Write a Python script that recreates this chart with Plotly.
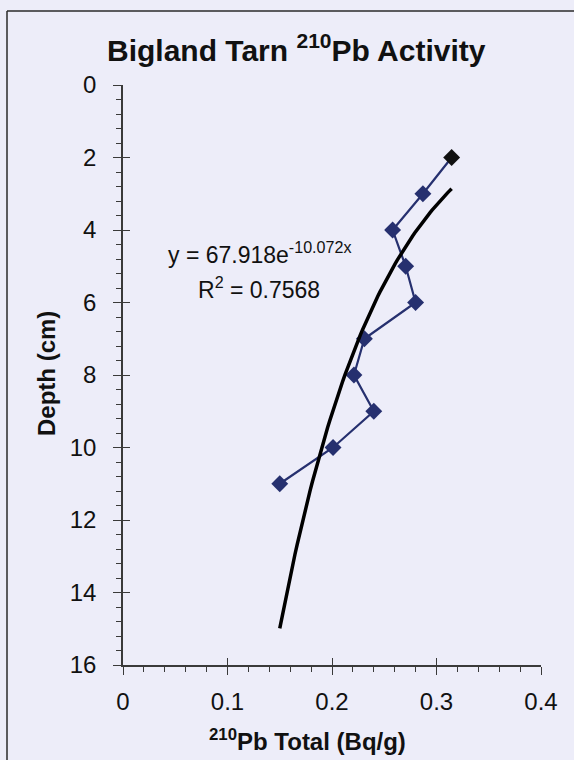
import numpy as np
import plotly.graph_objects as go

# ---- data ----
depth_cm = [2, 3, 4, 5, 6, 7, 8, 9, 10, 11]
pb210_total = [0.3145, 0.287, 0.258, 0.2705, 0.280, 0.231, 0.221, 0.240, 0.201, 0.150]

# exponential trendline shown on chart: depth = A * exp(B * activity)
trend_A = 67.918
trend_B = -10.072
trend_r2 = 0.7568

x_ticks = [0, 0.1, 0.2, 0.3, 0.4]
y_ticks = [0, 2, 4, 6, 8, 10, 12, 14, 16]

# ---- styling ----
BG = "#EDEDF9"
NAVY = "#26306F"
AXIS = "#3a3a3a"
FONT = "Liberation Sans, Arial, sans-serif"

W, H = 574, 760
L, R, T, B = 123, 33, 85, 95
PW, PH = W - L - R, H - T - B


def px2paper_x(px):
    return (px - L) / PW


def px2paper_y(py):
    return (H - B - py) / PH


tx = np.linspace(min(pb210_total), max(pb210_total), 80)
ty = trend_A * np.exp(trend_B * tx)

marker_colors = ["#111111"] + [NAVY] * (len(depth_cm) - 1)

fig = go.Figure()
fig.add_trace(go.Scatter(
    x=pb210_total, y=depth_cm, mode="lines+markers",
    line=dict(color=NAVY, width=2.2),
    marker=dict(symbol="diamond", size=13, color=marker_colors),
    hoverinfo="skip", showlegend=False,
))
fig.add_trace(go.Scatter(
    x=tx, y=ty, mode="lines",
    line=dict(color="black", width=3.5),
    hoverinfo="skip", showlegend=False,
))
# dummy trace to realise overlay axes (inside half of crossing ticks)
fig.add_trace(go.Scatter(x=[None], y=[None], xaxis="x2", yaxis="y2",
                         showlegend=False, hoverinfo="skip"))

tickfont = dict(family=FONT, size=24, color="#111111")
fig.update_layout(
    width=W, height=H,
    margin=dict(l=L, r=R, t=T, b=B, pad=0),
    paper_bgcolor=BG, plot_bgcolor=BG,
    xaxis=dict(
        range=[0, 0.4], tickvals=x_ticks, ticktext=[f"{v:g}" for v in x_ticks],
        ticks="outside", ticklen=8, tickwidth=1.3, tickcolor=AXIS,
        minor=dict(ticks="outside", dtick=0.02, ticklen=5, tickwidth=1, tickcolor=AXIS),
        showline=True, linecolor=AXIS, linewidth=1.5,
        showgrid=False, zeroline=False, tickfont=tickfont,
        ticklabelstandoff=6, fixedrange=True,
    ),
    yaxis=dict(
        range=[16, 0], tickvals=y_ticks, ticktext=[str(v) for v in y_ticks],
        ticks="outside", ticklen=8, tickwidth=1.3, tickcolor=AXIS,
        minor=dict(ticks="outside", dtick=0.4, ticklen=5, tickwidth=1, tickcolor=AXIS),
        showline=True, linecolor=AXIS, linewidth=1.5,
        showgrid=False, zeroline=False, tickfont=tickfont,
        ticklabelstandoff=12, fixedrange=True,
    ),
    xaxis2=dict(
        range=[0, 0.4], overlaying="x", anchor="y2", side="bottom",
        tickvals=x_ticks, ticks="inside", ticklen=7, tickwidth=1.3, tickcolor=AXIS,
        showticklabels=False, showline=False, showgrid=False, zeroline=False,
    ),
    yaxis2=dict(
        range=[16, 0], overlaying="y", anchor="x2", side="left",
        tickvals=y_ticks, ticks="inside", ticklen=7, tickwidth=1.3, tickcolor=AXIS,
        showticklabels=False, showline=False, showgrid=False, zeroline=False,
    ),
)

annos = [
    dict(text="<b>Bigland Tarn <sup>210</sup>Pb Activity</b>",
         x=px2paper_x(296), y=px2paper_y(48), xref="paper", yref="paper",
         showarrow=False, xanchor="center", yanchor="middle",
         font=dict(family=FONT, size=30, color="#111111")),
    dict(text="<b>Depth (cm)</b>", textangle=-90,
         x=px2paper_x(46), y=px2paper_y(374), xref="paper", yref="paper",
         showarrow=False, xanchor="center", yanchor="middle",
         font=dict(family=FONT, size=24, color="#111111")),
    dict(text="<b><sup>210</sup>Pb Total (Bq/g)</b>",
         x=px2paper_x(307), y=px2paper_y(740), xref="paper", yref="paper",
         showarrow=False, xanchor="center", yanchor="middle",
         font=dict(family=FONT, size=24, color="#111111")),
    dict(text=f"y = {trend_A:g}e<sup>{trend_B:g}x</sup>",
         x=px2paper_x(260), y=px2paper_y(253), xref="paper", yref="paper",
         showarrow=False, xanchor="center", yanchor="middle",
         font=dict(family=FONT, size=23, color="#111111")),
    dict(text=f"R<sup>2</sup> = {trend_r2:g}",
         x=px2paper_x(259), y=px2paper_y(288), xref="paper", yref="paper",
         showarrow=False, xanchor="center", yanchor="middle",
         font=dict(family=FONT, size=23, color="#111111")),
]
fig.update_layout(annotations=annos)

# chart-area frame (left and top edges visible in the crop)
fx = px2paper_x(7)
fy = px2paper_y(11)
fig.update_layout(shapes=[
    dict(type="line", xref="paper", yref="paper", x0=fx, x1=fx, y0=px2paper_y(780), y1=fy,
         line=dict(color="#2a2a2a", width=1.5)),
    dict(type="line", xref="paper", yref="paper", x0=fx, x1=px2paper_x(600), y0=fy, y1=fy,
         line=dict(color="#2a2a2a", width=1.5)),
])

fig.write_html("out.html", config=dict(displayModeBar=False))
